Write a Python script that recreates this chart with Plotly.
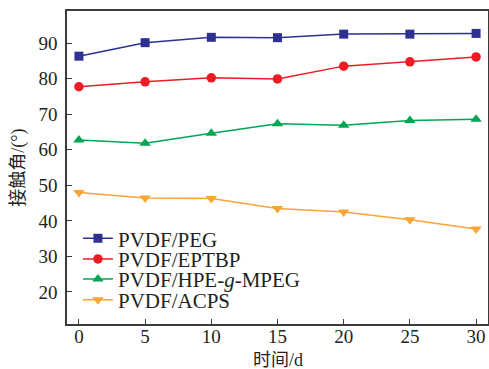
import plotly.graph_objects as go

days = [0, 5, 10, 15, 20, 25, 30]
peg = [86.3, 90.1, 91.6, 91.5, 92.5, 92.5, 92.7]
eptbp = [77.7, 79.1, 80.2, 79.9, 83.5, 84.7, 86.1]
hpe = [62.7, 61.8, 64.6, 67.3, 66.9, 68.2, 68.6]
acps = [48.0, 46.4, 46.3, 43.5, 42.5, 40.3, 37.7]

names = ["PVDF/PEG", "PVDF/EPTBP", "PVDF/HPE-<i>g</i>-MPEG", "PVDF/ACPS"]
series = [peg, eptbp, hpe, acps]
colors = ["#2E3192", "#ED1C24", "#00A651", "#F9A533"]
symbols = ["square", "circle", "triangle-up", "triangle-down"]
sizes = [9, 9.5, 10, 10]
legend_ids = ["legend", "legend2", "legend3", "legend4"]
legend_y = [0.2725, 0.2067, 0.1428, 0.0767]

fig = go.Figure()
for n, s, c, m, sz, lg in zip(names, series, colors, symbols, sizes, legend_ids):
    fig.add_trace(go.Scatter(x=days, y=s, name=n, mode="lines+markers",
                             line=dict(color=c, width=1.5),
                             marker=dict(symbol=m, size=sz, color=c),
                             legend=lg))

serif = "Liberation Serif, Times New Roman, serif"
cjk = "Liberation Serif, Noto Sans CJK SC, serif"
layout_legends = {}
for lg, ly in zip(legend_ids, legend_y):
    layout_legends[lg] = dict(x=0.026, y=ly, xanchor="left", yanchor="middle",
                              bgcolor="rgba(0,0,0,0)", font=dict(family=serif, size=21, color="#231F20"),
                              itemwidth=30, borderwidth=0)

fig.update_layout(
    width=489, height=369,
    margin=dict(l=67, r=1, t=11, b=45, autoexpand=False),
    paper_bgcolor="white", plot_bgcolor="white",
    font=dict(family=serif, size=19, color="#231F20"),
    showlegend=True,
    **layout_legends,
    annotations=[
        dict(text="时间/d", xref="paper", yref="paper", x=0.501, y=-0.115,
             xanchor="center", yanchor="middle", showarrow=False,
             font=dict(family=cjk, size=18, color="#231F20")),
        dict(text="接触角/(°)", xref="paper", yref="paper", x=-0.116, y=0.5,
             xanchor="center", yanchor="middle", showarrow=False, textangle=-90,
             font=dict(family=cjk, size=18, color="#231F20")),
    ],
)
fig.update_xaxes(range=[-0.9, 30.9], tickvals=days,
                 showline=True, mirror=True, linecolor="#3a3a3a", linewidth=1.5,
                 ticks="inside", ticklen=5, tickcolor="#3a3a3a", showgrid=False,
                 zeroline=False, automargin=False, ticklabelstandoff=-6)
fig.update_yaxes(range=[11, 99], tickvals=[20, 30, 40, 50, 60, 70, 80, 90],
                 showline=True, mirror=True, linecolor="#3a3a3a", linewidth=1.5,
                 ticks="inside", ticklen=5, tickcolor="#3a3a3a", showgrid=False,
                 zeroline=False, automargin=False, ticklabelstandoff=4)
fig.write_html("out.html", config={"displayModeBar": False},
               post_script="document.body.style.margin='0';document.body.style.overflow='hidden';")
